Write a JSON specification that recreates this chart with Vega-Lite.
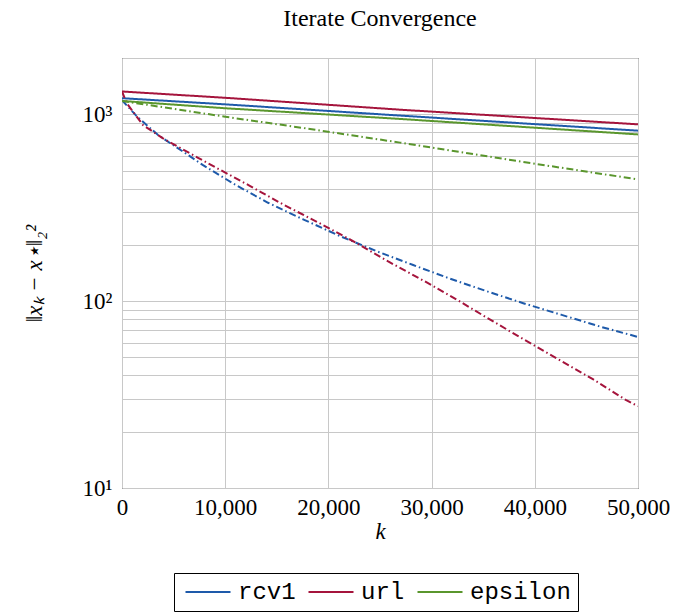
{
  "$schema": "https://vega.github.io/schema/vega-lite/v6.json",
  "width": 516,
  "height": 430,
  "autosize": "none",
  "padding": {"left": 122, "top": 58, "right": 40, "bottom": 128},
  "background": "white",
  "title": {"text": "Iterate Convergence", "font": "Liberation Serif", "fontSize": 24, "fontWeight": "normal", "color": "black", "anchor": "middle", "frame": "group", "offset": 16},
  "config": {
    "view": {"stroke": "black", "strokeWidth": 1},
    "axis": {"gridColor": "#c8c8c8", "gridWidth": 1, "gridOpacity": 1, "domain": false, "ticks": false, "labelFont": "Liberation Serif", "labelFontSize": 23, "labelColor": "black", "titleFont": "Liberation Serif", "titleFontStyle": "italic", "titleFontWeight": "normal", "titleFontSize": 23, "titleColor": "black"}
  },
  "data": {"values": [
    {"k": 0, "v": 1219, "ds": "rcv1", "m": "solid"},
    {"k": 10000, "v": 1130, "ds": "rcv1", "m": "solid"},
    {"k": 26938, "v": 984, "ds": "rcv1", "m": "solid"},
    {"k": 50000, "v": 817, "ds": "rcv1", "m": "solid"},
    {"k": 0, "v": 1324, "ds": "url", "m": "solid"},
    {"k": 10000, "v": 1225, "ds": "url", "m": "solid"},
    {"k": 26938, "v": 1058, "ds": "url", "m": "solid"},
    {"k": 50000, "v": 883, "ds": "url", "m": "solid"},
    {"k": 0, "v": 1178, "ds": "epsilon", "m": "solid"},
    {"k": 10000, "v": 1077, "ds": "epsilon", "m": "solid"},
    {"k": 26938, "v": 944, "ds": "epsilon", "m": "solid"},
    {"k": 50000, "v": 780, "ds": "epsilon", "m": "solid"},
    {"k": 0, "v": 1189, "ds": "rcv1", "m": "dashdot"},
    {"k": 1396, "v": 980, "ds": "rcv1", "m": "dashdot"},
    {"k": 3491, "v": 774, "ds": "rcv1", "m": "dashdot"},
    {"k": 5915, "v": 631, "ds": "rcv1", "m": "dashdot"},
    {"k": 7854, "v": 534, "ds": "rcv1", "m": "dashdot"},
    {"k": 10927, "v": 421, "ds": "rcv1", "m": "dashdot"},
    {"k": 14156, "v": 336, "ds": "rcv1", "m": "dashdot"},
    {"k": 17549, "v": 274, "ds": "rcv1", "m": "dashdot"},
    {"k": 21108, "v": 223, "ds": "rcv1", "m": "dashdot"},
    {"k": 24666, "v": 185, "ds": "rcv1", "m": "dashdot"},
    {"k": 28215, "v": 156, "ds": "rcv1", "m": "dashdot"},
    {"k": 31773, "v": 132, "ds": "rcv1", "m": "dashdot"},
    {"k": 35332, "v": 113, "ds": "rcv1", "m": "dashdot"},
    {"k": 38881, "v": 97.5, "ds": "rcv1", "m": "dashdot"},
    {"k": 42604, "v": 84.4, "ds": "rcv1", "m": "dashdot"},
    {"k": 46318, "v": 73.1, "ds": "rcv1", "m": "dashdot"},
    {"k": 50000, "v": 64.3, "ds": "rcv1", "m": "dashdot"},
    {"k": 0, "v": 1324, "ds": "url", "m": "dashdot"},
    {"k": 454, "v": 1146, "ds": "url", "m": "dashdot"},
    {"k": 2036, "v": 875, "ds": "url", "m": "dashdot"},
    {"k": 3975, "v": 743, "ds": "url", "m": "dashdot"},
    {"k": 5430, "v": 670, "ds": "url", "m": "dashdot"},
    {"k": 7369, "v": 585, "ds": "url", "m": "dashdot"},
    {"k": 9153, "v": 517, "ds": "url", "m": "dashdot"},
    {"k": 12382, "v": 414, "ds": "url", "m": "dashdot"},
    {"k": 15611, "v": 329, "ds": "url", "m": "dashdot"},
    {"k": 19101, "v": 262, "ds": "url", "m": "dashdot"},
    {"k": 22562, "v": 207, "ds": "url", "m": "dashdot"},
    {"k": 25792, "v": 163, "ds": "url", "m": "dashdot"},
    {"k": 29185, "v": 129, "ds": "url", "m": "dashdot"},
    {"k": 32424, "v": 102, "ds": "url", "m": "dashdot"},
    {"k": 35721, "v": 79.3, "ds": "url", "m": "dashdot"},
    {"k": 39047, "v": 61.9, "ds": "url", "m": "dashdot"},
    {"k": 42276, "v": 48.8, "ds": "url", "m": "dashdot"},
    {"k": 45670, "v": 38.1, "ds": "url", "m": "dashdot"},
    {"k": 48908, "v": 29.4, "ds": "url", "m": "dashdot"},
    {"k": 50000, "v": 27.4, "ds": "url", "m": "dashdot"},
    {"k": 0, "v": 1178, "ds": "epsilon", "m": "dashdot"},
    {"k": 5000, "v": 1069, "ds": "epsilon", "m": "dashdot"},
    {"k": 10000, "v": 970, "ds": "epsilon", "m": "dashdot"},
    {"k": 18217, "v": 834, "ds": "epsilon", "m": "dashdot"},
    {"k": 26938, "v": 705, "ds": "epsilon", "m": "dashdot"},
    {"k": 40240, "v": 541, "ds": "epsilon", "m": "dashdot"},
    {"k": 50000, "v": 448, "ds": "epsilon", "m": "dashdot"}
  ]},
  "mark": {"type": "line", "strokeWidth": 2, "clip": true},
  "encoding": {
    "x": {"field": "k", "type": "quantitative", "scale": {"domain": [0, 50000], "nice": false},
      "axis": {"values": [0, 10000, 20000, 30000, 40000, 50000], "format": ",.0f", "labelPadding": 8, "labelFlush": false, "title": "k", "titleX": 258, "titleY": 43, "titleBaseline": "middle", "titleAlign": "center"}},
    "y": {"field": "v", "type": "quantitative", "scale": {"type": "log", "domain": [10, 2000], "nice": false},
      "axis": {"values": [10, 20, 30, 40, 50, 60, 70, 80, 90, 100, 200, 300, 400, 500, 600, 700, 800, 900, 1000, 2000],
        "labelExpr": "datum.value == 10 ? '10¹' : datum.value == 100 ? '10²' : datum.value == 1000 ? '10³' : ''",
        "labelOverlap": false, "labelPadding": 10, "labelBaseline": "middle",
        "title": "‖xₖ − x⋆‖₂²", "titleAngle": 270, "titleX": -88, "titleY": 215, "titleAlign": "center", "titleBaseline": "middle"}},
    "color": {"field": "ds", "type": "nominal",
      "scale": {"domain": ["rcv1", "url", "epsilon"], "range": ["#1e5aaa", "#a5143c", "#5a962d"]},
      "legend": {"orient": "none", "legendX": 52, "legendY": 515, "direction": "horizontal", "title": null,
        "strokeColor": "black", "fillColor": "white", "padding": 7, "symbolType": "M-3,0L3,0", "symbolSize": 225, "symbolStrokeWidth": 2, "symbolOffset": 15,
        "labelFont": "Liberation Mono", "labelFontSize": 24, "labelColor": "black", "labelOffset": 18, "columnPadding": 8, "cornerRadius": 0}},
    "strokeDash": {"field": "m", "type": "nominal",
      "scale": {"domain": ["solid", "dashdot"], "range": [[1, 0], [7, 3, 1.5, 3]]}, "legend": null}
  }
}
